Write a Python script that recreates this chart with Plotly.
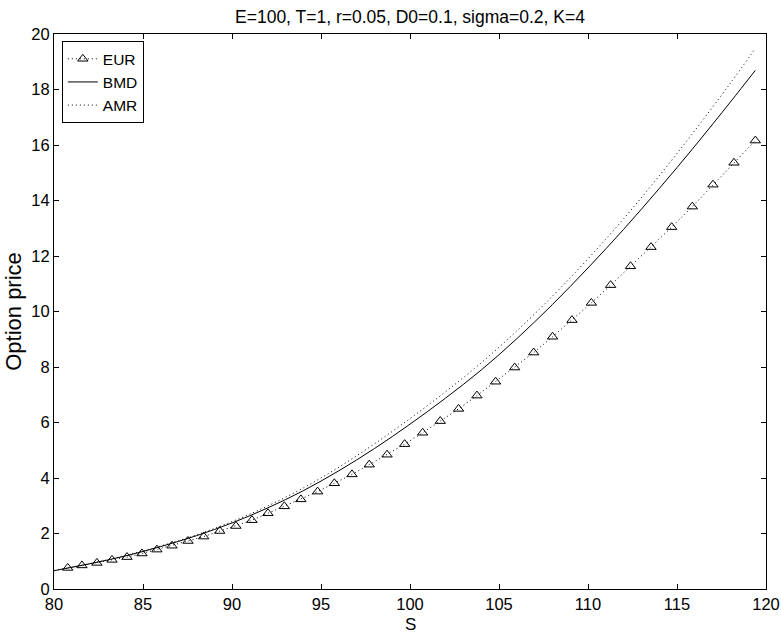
import plotly.graph_objects as go

# European option prices (markers)
s_eur = [80.77, 81.57, 82.41, 83.26, 84.10, 84.94, 85.78, 86.63, 87.53, 88.41,
         89.31, 90.22, 91.12, 92.02, 92.94, 93.87, 94.81, 95.75, 96.74, 97.71,
         98.71, 99.70, 100.71, 101.70, 102.73, 103.76, 104.81, 105.88, 106.95, 108.01,
         109.10, 110.19, 111.27, 112.39, 113.54, 114.70, 115.86, 117.02, 118.20, 119.40]
eur = [0.76, 0.85, 0.94, 1.05, 1.15, 1.28, 1.42, 1.56, 1.73, 1.89,
       2.09, 2.27, 2.48, 2.73, 2.98, 3.23, 3.51, 3.81, 4.13, 4.48,
       4.84, 5.22, 5.63, 6.05, 6.49, 6.97, 7.47, 7.98, 8.52, 9.09,
       9.69, 10.31, 10.95, 11.63, 12.32, 13.04, 13.78, 14.57, 15.36, 16.16]

# American approximations (lines)
s_line = [80, 82, 84, 86, 88, 90, 92, 94, 96, 98, 100,
          102, 104, 106, 108, 110, 112, 114, 116, 118, 119.4]
bmd = [0.66, 0.91, 1.19, 1.53, 1.92, 2.38, 2.92, 3.54, 4.26, 5.06, 5.94,
       6.88, 7.89, 9.02, 10.25, 11.57, 12.96, 14.43, 15.96, 17.55, 18.69]
amr = [0.66, 0.91, 1.20, 1.55, 1.95, 2.43, 2.99, 3.64, 4.39, 5.23, 6.14,
       7.11, 8.15, 9.30, 10.55, 11.90, 13.34, 14.89, 16.52, 18.23, 19.48]

x_ticks = [80, 85, 90, 95, 100, 105, 110, 115, 120]
y_ticks = [0, 2, 4, 6, 8, 10, 12, 14, 16, 18, 20]

FONT = "Liberation Sans, Arial, Helvetica, sans-serif"

fig = go.Figure()
fig.add_trace(go.Scatter(
    x=s_eur, y=eur, name="EUR", mode="lines+markers",
    line=dict(color="black", width=1, dash="1px,3px"),
    marker=dict(symbol="triangle-up-open", size=9, color="black",
                line=dict(width=1, color="black")),
))
fig.add_trace(go.Scatter(
    x=s_line, y=bmd, name="BMD", mode="lines",
    line=dict(color="black", width=1, shape="spline", smoothing=1),
))
fig.add_trace(go.Scatter(
    x=s_line, y=amr, name="AMR", mode="lines",
    line=dict(color="black", width=1, dash="1px,3px", shape="spline", smoothing=1),
))

axis_common = dict(
    showgrid=False, zeroline=False, showline=True, linecolor="black", linewidth=1,
    mirror="ticks", ticks="inside", ticklen=5, tickcolor="black", tickwidth=1,
    tickfont=dict(family=FONT, size=16.5, color="black"), automargin=False,
)

fig.update_layout(
    width=781, height=637,
    margin=dict(l=54, r=15, t=34, b=48),
    paper_bgcolor="white", plot_bgcolor="white",
    font=dict(family=FONT, color="black"),
    title=dict(text="E=100, T=1, r=0.05, D0=0.1, sigma=0.2, K=4",
               font=dict(family=FONT, size=17.5, color="black"),
               x=0.5, xanchor="center", y=1 - 17 / 637, yanchor="middle",
               xref="paper", yref="container"),
    xaxis=dict(range=[80, 120], tickvals=x_ticks, ticklabelstandoff=0,
               **axis_common),
    yaxis=dict(range=[0, 20], tickvals=y_ticks,
               title=dict(text="Option price", font=dict(family=FONT, size=22), standoff=3),
               **axis_common),
    legend=dict(x=0.011, y=0.987, xanchor="left", yanchor="top",
                bordercolor="black", borderwidth=1, bgcolor="white",
                font=dict(family=FONT, size=15.5, color="black"),
                tracegroupgap=0, itemwidth=30),
    showlegend=True,
)

# x-axis label placed below the tick labels
fig.add_annotation(text="S", xref="paper", yref="paper", x=0.5, y=-0.0847,
                   xanchor="center", yanchor="bottom", showarrow=False,
                   font=dict(family=FONT, size=17, color="black"))

fig.write_html("out.html")
